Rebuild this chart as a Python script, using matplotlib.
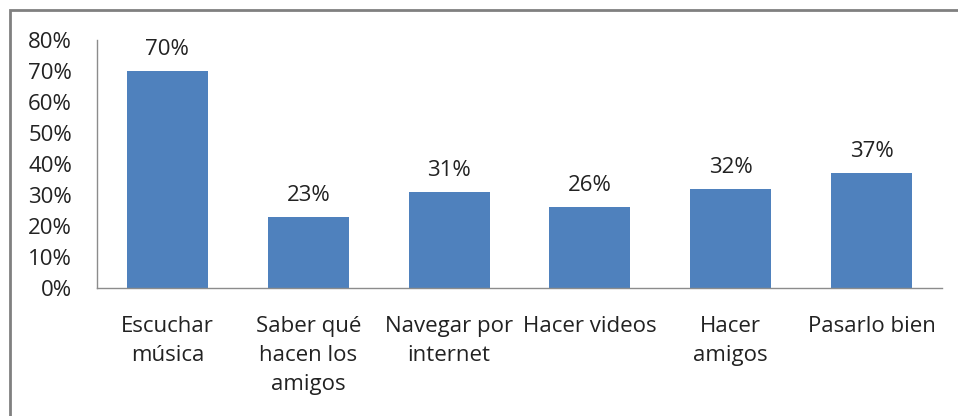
import matplotlib.pyplot as plt
from matplotlib.patches import Rectangle
from matplotlib.ticker import FuncFormatter

plt.rcParams["font.family"] = ["Open Sans", "DejaVu Sans"]

categories = ["Escuchar\nmúsica", "Saber qué\nhacen los\namigos", "Navegar por\ninternet",
              "Hacer videos", "Hacer\namigos", "Pasarlo bien"]
values = [70, 23, 31, 26, 32, 37]
y_ticks = [0, 10, 20, 30, 40, 50, 60, 70, 80]

fig = plt.figure(figsize=(9.58, 4.16), dpi=100)
ax = fig.add_axes([97 / 958, 1 - 288 / 416, (942 - 97) / 958, (288 - 40) / 416])

x = range(len(categories))
ax.bar(x, values, width=0.575, color="#4F81BD", zorder=2)

for xi, v in zip(x, values):
    ax.annotate(f"{v}%", (xi, v), xytext=(0, 8), textcoords="offset points",
                ha="center", va="bottom", fontsize=16, color="#222222")

ax.set_xlim(-0.5, len(categories) - 0.5)
ax.set_ylim(0, 80)
ax.set_yticks(y_ticks)
ax.yaxis.set_major_formatter(FuncFormatter(lambda v, p: f"{v:.0f}%"))
ax.set_xticks(list(x))
ax.set_xticklabels(categories, fontsize=16, color="#222222", linespacing=1.52, va="top")
ax.tick_params(axis="y", length=0, pad=18, labelsize=16, labelcolor="#222222")
ax.tick_params(axis="x", length=0, pad=20)

for side in ["top", "right"]:
    ax.spines[side].set_visible(False)
for side in ["left", "bottom"]:
    ax.spines[side].set_color("#8c8c8c")
    ax.spines[side].set_linewidth(1)

# outer chart border (runs off the right and bottom of the image)
fig.patches.append(Rectangle((10 / 958, -0.1), 1.2, 1.1 - 10 / 416, transform=fig.transFigure,
                             fill=False, edgecolor="#808080", linewidth=2))

fig.savefig("out.png", dpi=100)
